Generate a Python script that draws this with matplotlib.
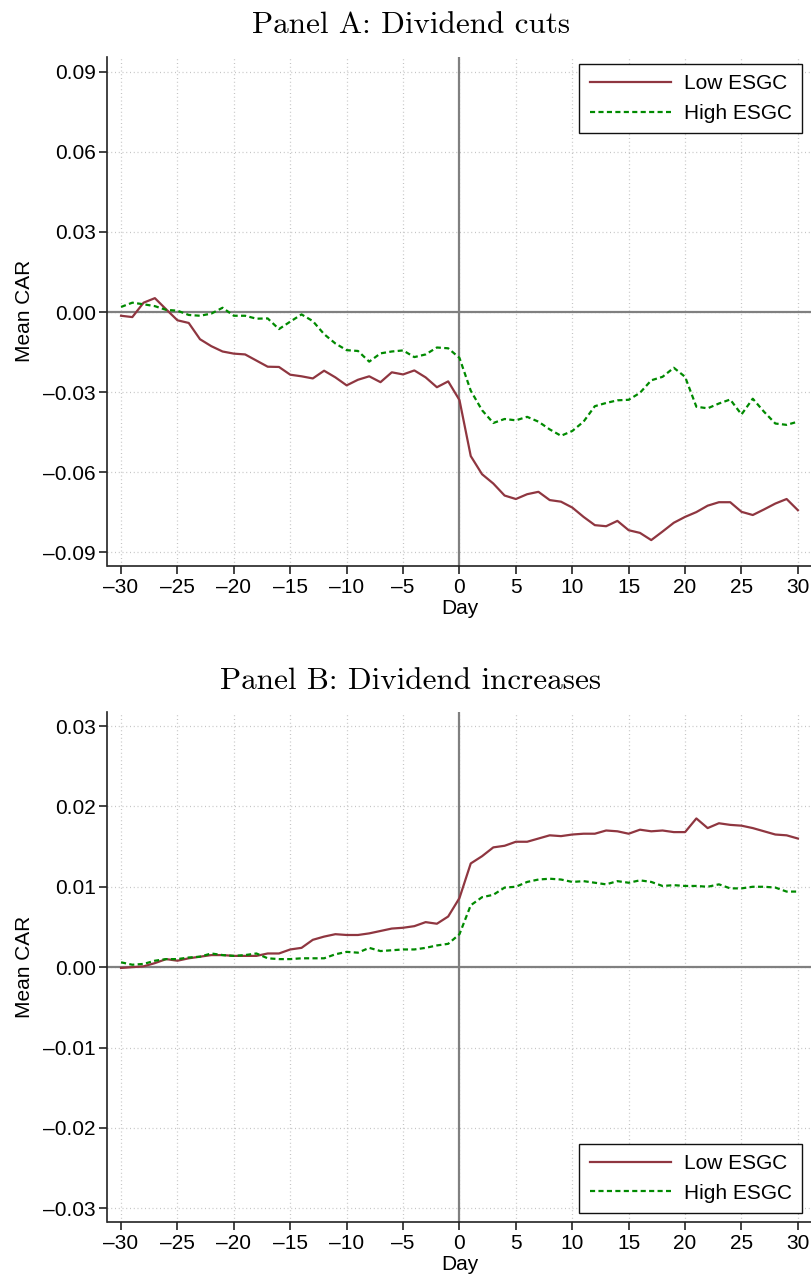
import matplotlib
matplotlib.use("Agg")
import matplotlib.pyplot as plt
from matplotlib.ticker import FuncFormatter, FixedLocator

days = list(range(-30, 31))

cuts_low = [-0.0014, -0.0019, 0.0035, 0.0052, 0.0010, -0.0031, -0.0041, -0.0102, -0.0128, -0.0148,
            -0.0156, -0.0159, -0.0182, -0.0205, -0.0206, -0.0235, -0.0241, -0.0249, -0.0220, -0.0245,
            -0.0275, -0.0254, -0.0241, -0.0263, -0.0226, -0.0234, -0.0219, -0.0245, -0.0282, -0.0260,
            -0.0330,
            -0.0540, -0.0608, -0.0643, -0.0688, -0.0701, -0.0683, -0.0674, -0.0705, -0.0711, -0.0733,
            -0.0768, -0.0799, -0.0803, -0.0783, -0.0818, -0.0828, -0.0855, -0.0823, -0.0790, -0.0768,
            -0.0750, -0.0726, -0.0713, -0.0713, -0.0749, -0.0761, -0.0740, -0.0718, -0.0701, -0.0743]

cuts_high = [0.0019, 0.0035, 0.0029, 0.0022, 0.0008, 0.0005, -0.0011, -0.0014, -0.0006, 0.0016,
             -0.0014, -0.0014, -0.0025, -0.0024, -0.0064, -0.0036, -0.0009, -0.0034, -0.0083, -0.0118,
             -0.0143, -0.0146, -0.0186, -0.0155, -0.0148, -0.0144, -0.0169, -0.0159, -0.0133, -0.0136,
             -0.0172,
             -0.0295, -0.0368, -0.0416, -0.0401, -0.0406, -0.0393, -0.0411, -0.0440, -0.0464, -0.0446,
             -0.0411, -0.0353, -0.0341, -0.0331, -0.0329, -0.0303, -0.0256, -0.0243, -0.0209, -0.0243,
             -0.0355, -0.0361, -0.0343, -0.0328, -0.0384, -0.0325, -0.0374, -0.0418, -0.0423, -0.0411]

inc_low = [-0.0001, 0.0000, 0.0001, 0.0005, 0.0010, 0.0008, 0.0011, 0.0013, 0.0015, 0.0015,
           0.0014, 0.0014, 0.0014, 0.0017, 0.0017, 0.0022, 0.0024, 0.0034, 0.0038, 0.0041,
           0.0040, 0.0040, 0.0042, 0.0045, 0.0048, 0.0049, 0.0051, 0.0056, 0.0054, 0.0063,
           0.0086,
           0.0129, 0.0138, 0.0149, 0.0151, 0.0156, 0.0156, 0.0160, 0.0164, 0.0163, 0.0165,
           0.0166, 0.0166, 0.0170, 0.0169, 0.0166, 0.0171, 0.0169, 0.0170, 0.0168, 0.0168,
           0.0185, 0.0173, 0.0179, 0.0177, 0.0176, 0.0173, 0.0169, 0.0165, 0.0164, 0.0160]

inc_high = [0.0006, 0.0003, 0.0004, 0.0008, 0.0010, 0.0010, 0.0012, 0.0013, 0.0017, 0.0015,
            0.0014, 0.0015, 0.0017, 0.0011, 0.0010, 0.0010, 0.0011, 0.0011, 0.0011, 0.0016,
            0.0019, 0.0018, 0.0024, 0.0020, 0.0021, 0.0022, 0.0022, 0.0024, 0.0027, 0.0029,
            0.0041,
            0.0077, 0.0087, 0.0090, 0.0099, 0.0100, 0.0106, 0.0109, 0.0110, 0.0109, 0.0106,
            0.0107, 0.0105, 0.0103, 0.0107, 0.0105, 0.0108, 0.0106, 0.0101, 0.0102, 0.0101,
            0.0101, 0.0100, 0.0103, 0.0098, 0.0098, 0.0100, 0.0100, 0.0099, 0.0094, 0.0094]

x_ticks = [-30, -25, -20, -15, -10, -5, 0, 5, 10, 15, 20, 25, 30]
yticks_a = [-0.09, -0.06, -0.03, 0.00, 0.03, 0.06, 0.09]
yticks_b = [-0.03, -0.02, -0.01, 0.00, 0.01, 0.02, 0.03]
series_labels = ["Low ESGC", "High ESGC"]
titles = ["Panel A: Dividend cuts", "Panel B: Dividend increases"]

RED = "#8f3640"
GREEN = "#008a00"
W, H = 812, 1277
FS = 15

plt.rcParams['font.family'] = ['Liberation Sans', 'DejaVu Sans']
fig = plt.figure(figsize=(W / 100, H / 100), dpi=100)


def dash(v):
    s = f"{abs(v):.2f}"
    return ("\u2013" + s) if v < -1e-12 else s


def xfmt(v, pos):
    v = int(round(v))
    return ("\u2013" + str(abs(v))) if v < 0 else str(v)


def make_panel(rect, low, high, yticks, ylim, legloc, legy, title, title_y):
    ax = fig.add_axes(rect)
    ax.set_xlim(-31.2, 31.25)
    ax.set_ylim(*ylim)
    ax.xaxis.set_major_locator(FixedLocator(x_ticks))
    ax.yaxis.set_major_locator(FixedLocator(yticks))
    ax.xaxis.set_major_formatter(FuncFormatter(xfmt))
    ax.yaxis.set_major_formatter(FuncFormatter(lambda v, p: dash(v)))
    ax.grid(True, color="#c4c4c4", linestyle=(0, (0.8, 2.2)), linewidth=0.9)
    ax.set_axisbelow(True)
    for s in ("top", "right"):
        ax.spines[s].set_visible(False)
    for s in ("left", "bottom"):
        ax.spines[s].set_linewidth(1.2)
        ax.spines[s].set_color("#222222")
    ax.tick_params(direction="out", length=5.5, width=1.2, colors="#222222",
                   labelsize=FS, labelcolor="black", pad=3)
    ax.axhline(0, color="#808080", linewidth=1.6, zorder=2)
    ax.axvline(0, color="#808080", linewidth=1.6, zorder=2)
    l1, = ax.plot(days, low, color=RED, linewidth=1.6, zorder=3, label=series_labels[0])
    l2, = ax.plot(days, high, color=GREEN, linewidth=1.6, zorder=3, label=series_labels[1],
                  dashes=(2.3, 1.5))
    ax.set_xlabel("Day", fontsize=FS, labelpad=2)
    ax.set_ylabel("Mean CAR", fontsize=FS, labelpad=6.5)
    leg = ax.legend(handles=[l1, l2], loc=legloc,
                    bbox_to_anchor=(802 / W, legy), bbox_transform=fig.transFigure,
                    fontsize=FS, frameon=True, fancybox=False, framealpha=1,
                    edgecolor="#111111", handlelength=3.9, handletextpad=0.6,
                    borderpad=0.5, labelspacing=0.5, borderaxespad=0)
    leg.get_frame().set_linewidth(1.0)
    fig.text(411 / W, title_y, title, family="cmr10", fontsize=22.4,
             ha="center", va="baseline")
    return ax


axA = make_panel([107.5 / W, 1 - 565.7 / H, 1 - 107.5 / W, (565.7 - 57) / H],
                 cuts_low, cuts_high, yticks_a, (-0.0951, 0.0956),
                 "upper right", 1 - 64 / H, titles[0], 1 - 33 / H)
axB = make_panel([107.5 / W, 1 - 1221.7 / H, 1 - 107.5 / W, (1221.7 - 711.7) / H],
                 inc_low, inc_high, yticks_b, (-0.03167, 0.03178),
                 "lower right", 1 - 1213 / H, titles[1], 1 - 689 / H)

fig.savefig("out.png", dpi=100)
